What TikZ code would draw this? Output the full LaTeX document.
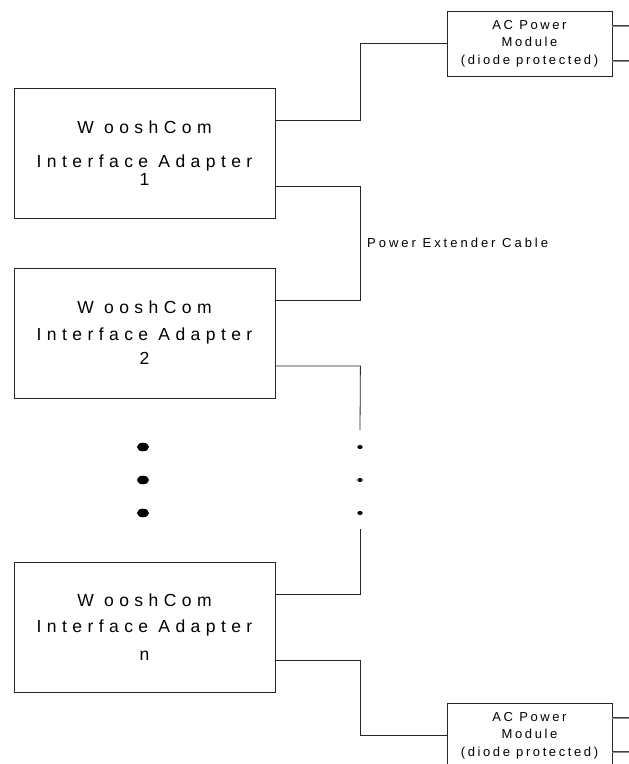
\documentclass[tikz,border=0pt]{standalone}
\usepackage{fontspec}
\setmainfont{Liberation Sans}
\newfontfamily\bigsp[LetterSpace=31]{Liberation Sans}
\newfontfamily\smallsp[LetterSpace=20]{Liberation Sans}
\newfontfamily\labelsp[LetterSpace=23]{Liberation Sans}
\tikzset{
  adapter/.style={draw=black!85, line width=0.8bp, minimum width=261bp, minimum height=130bp,
    inner sep=0pt, align=center, font={\bigsp\fontsize{17.5bp}{17bp}\selectfont}},
  acmod/.style={draw=black!85, line width=0.8bp, minimum width=165bp, minimum height=65bp,
    inner sep=0pt, align=center, font={\smallsp\fontsize{13bp}{17.5bp}\selectfont}},
  wire/.style={line width=0.8bp, draw=black!85},
  dbl/.style={draw=black!75, line width=0.9bp},
  lbl/.style={inner sep=0pt, font={\labelsp\fontsize{13bp}{15bp}\selectfont}}
}
\begin{document}
\begin{tikzpicture}[x=1bp,y=-1bp]
\useasboundingbox (0,0) rectangle (629,764);
\clip (0,0) rectangle (629,764);
\fill[white] (0,0) rectangle (629,764);

\node[adapter] (b1) at (144.5,153) {W ooshCom\\[17bp]Interface Adapter\\[1bp]1};
\node[adapter] (b2) at (144.5,333) {W ooshCom\\[10bp]Interface Adapter\\[7bp]2};
\node[adapter] (bn) at (144.5,627) {W ooshCom\\[9bp]Interface Adapter\\[11bp]n};

\node[acmod] (ac1) at (529.5,43.5) {AC Power\\Module\\(diode protected)};
\node[acmod] (ac2) at (529.5,735.5) {AC Power\\Module\\(diode protected)};

\node[lbl, anchor=base west] (pec) at (367,247) {Power Extender Cable};

\coordinate (cA) at (360,430);
\coordinate (cB) at (360,529);

\draw[wire] ([yshift=33bp]b1.east) -- ++(85,0) |- (ac1.west);
\draw[wire] ([yshift=-33bp]b1.east) -- ++(85,0) |- ([yshift=33bp]b2.east);
\draw[wire] ([yshift=-33bp]b2.east) -- ++(85,0) -- (cA);
\draw[wire] (cB) |- ([yshift=33bp]bn.east);
\draw[wire] ([yshift=-33bp]bn.east) -- ++(85,0) |- (ac2.west);

\foreach \n/\s in {ac1/17.5, ac1/-17.5, ac2/17.5, ac2/-16.5} {
  \draw[dbl] ([yshift=\s bp+0.9bp]\n.east) -- ++(20,0);
  \draw[dbl, draw=black!45] ([yshift=\s bp-0.9bp]\n.east) -- ++(20,0);
}

\foreach \yy in {447,480,513} {
  \fill (143,\yy) ellipse [x radius=6bp, y radius=4.3bp];
  \fill (360,\yy) ellipse [x radius=2.7bp, y radius=2bp];
}
\end{tikzpicture}
\end{document}
